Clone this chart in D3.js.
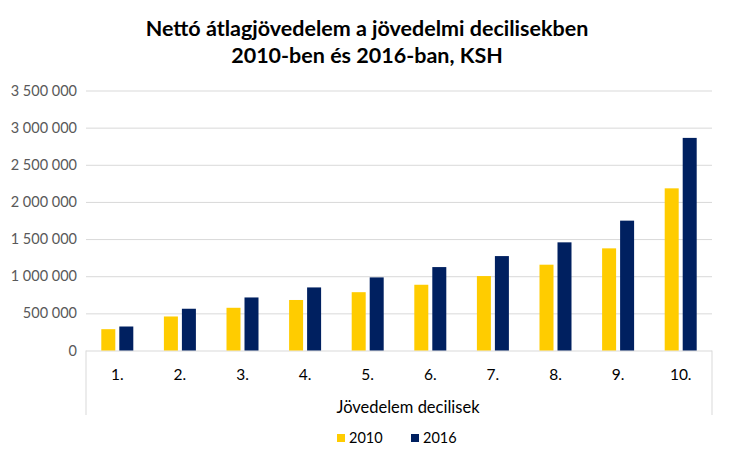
<!DOCTYPE html>
<html>
<head>
<meta charset="utf-8">
<script src="https://cdn.jsdelivr.net/npm/d3@7"></script>
<style>
  html, body { margin: 0; padding: 0; background: #fff; }
  svg { display: block; }
  text { font-family: Lato, "Open Sans", sans-serif; }
</style>
</head>
<body>
<svg id="chart" width="730" height="461"></svg>
<script>
// ---- data ----
const categories = ["1.", "2.", "3.", "4.", "5.", "6.", "7.", "8.", "9.", "10."];
const seriesNames = ["2010", "2016"];
const values2010 = [287000, 458000, 575000, 680000, 785000, 885000, 1002000, 1155000, 1375000, 2183000];
const values2016 = [323000, 562000, 714000, 849000, 984000, 1123000, 1271000, 1456000, 1748000, 2862000];
const yTicks = [0, 500000, 1000000, 1500000, 2000000, 2500000, 3000000, 3500000];
const titleLines = ["Nettó átlagjövedelem a jövedelmi decilisekben", "2010-ben és 2016-ban, KSH"];
const xAxisTitle = "Jövedelem decilisek";
const colors = { "2010": "#FFCC00", "2016": "#002060" };

(function () {
const svg = d3.select("#chart");
const pLeft = 86, pRight = 712, pTop = 90.5, pBottom = 350.5, boxBottom = 415;

const x = d3.scaleBand().domain(categories).range([pLeft, pRight]).paddingInner(0).paddingOuter(0);
const pairW = 32;
const x1 = d3.scaleBand().domain(seriesNames)
  .range([(x.bandwidth() - pairW) / 2, (x.bandwidth() + pairW) / 2])
  .paddingInner(4 / 18).paddingOuter(0);
const y = d3.scaleLinear().domain([0, 3500000]).range([pBottom, pTop]);

const fmt = v => d3.format(",")(v).replace(/,/g, " ");

// gridlines + y labels via axis
const yAxis = d3.axisLeft(y).tickValues(yTicks).tickFormat(fmt).tickSize(-(pRight - pLeft)).tickPadding(9);
const gy = svg.append("g").attr("transform", `translate(${pLeft},0)`).call(yAxis);
gy.select(".domain").remove();
gy.selectAll(".tick line").attr("stroke", "#d9d9d9").attr("stroke-width", 1);
gy.selectAll(".tick text").attr("fill", "#595959").attr("font-size", "14.5px")
  .attr("font-family", "Lato, 'Open Sans', sans-serif");

// category box borders
svg.append("line").attr("x1", pLeft).attr("x2", pLeft).attr("y1", pBottom).attr("y2", boxBottom)
  .attr("stroke", "#d9d9d9");
svg.append("line").attr("x1", pRight).attr("x2", pRight).attr("y1", pBottom).attr("y2", boxBottom)
  .attr("stroke", "#d9d9d9");

// bars
const data = categories.map((c, i) => ({ cat: c, vals: [
  { s: "2010", v: values2010[i] }, { s: "2016", v: values2016[i] }] }));
const groups = svg.append("g").selectAll("g").data(data).join("g")
  .attr("transform", d => `translate(${x(d.cat)},0)`);
groups.selectAll("rect").data(d => d.vals).join("rect")
  .attr("x", d => x1(d.s))
  .attr("width", x1.bandwidth())
  .attr("y", d => y(d.v))
  .attr("height", d => y(0) - y(d.v))
  .attr("fill", d => colors[d.s]);

// x axis labels
const xAxis = d3.axisBottom(x).tickSize(0).tickPadding(18);
const gx = svg.append("g").attr("transform", `translate(0,${pBottom})`).call(xAxis);
gx.select(".domain").remove();
gx.selectAll(".tick text").attr("fill", "#000").attr("font-size", "15.5px")
  .attr("font-family", "Lato, 'Open Sans', sans-serif");

// axis title
svg.append("text").attr("x", (pLeft + pRight) / 2 + 9).attr("y", 413)
  .attr("text-anchor", "middle").attr("font-size", "16.5px").attr("fill", "#000")
  .text(xAxisTitle);

// title
svg.selectAll(".title").data(titleLines).join("text").attr("class", "title")
  .attr("x", 367).attr("y", (d, i) => 36 + i * 27)
  .attr("text-anchor", "middle").attr("font-size", "21.5px").attr("font-weight", "bold")
  .attr("fill", "#000").text(d => d);

// legend
const lg = svg.append("g");
const legendX = [337, 411];
seriesNames.forEach((s, i) => {
  lg.append("rect").attr("x", legendX[i]).attr("y", 434).attr("width", 8).attr("height", 8)
    .attr("fill", colors[s]);
  lg.append("text").attr("x", legendX[i] + 12).attr("y", 443).attr("font-size", "14.5px")
    .attr("fill", "#000").text(s);
});
})();
</script>
</body>
</html>
